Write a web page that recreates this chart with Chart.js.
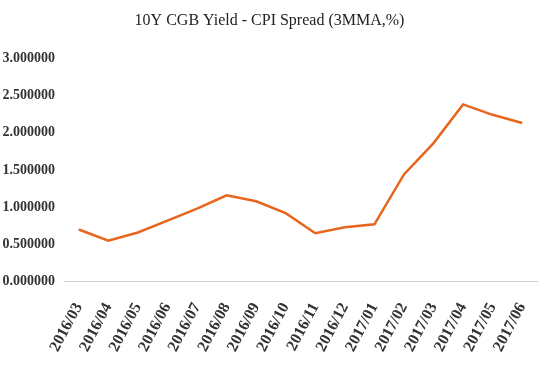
<!DOCTYPE html>
<html>
<head>
<meta charset="utf-8">
<script src="https://cdn.jsdelivr.net/npm/chart.js@4"></script>
<style>
    html, body { margin: 0; padding: 0; background: #fff; }
    #wrap { width: 551px; height: 374px; }
</style>
</head>
<body>
<div id="wrap"><canvas id="spreadChart"></canvas></div>
<script>
const months = ['2016/03', '2016/04', '2016/05', '2016/06', '2016/07', '2016/08', '2016/09', '2016/10',
    '2016/11', '2016/12', '2017/01', '2017/02', '2017/03', '2017/04', '2017/05', '2017/06'];
const spread = [0.70, 0.55, 0.66, 0.82, 0.98, 1.16, 1.08, 0.92, 0.65, 0.73, 0.77, 1.44, 1.86, 2.38, 2.24, 2.13];
const yTicks = [0, 0.5, 1, 1.5, 2, 2.5, 3];

const ctx = document.getElementById('spreadChart').getContext('2d');

new Chart(ctx, {
    type: 'line',
    data: {
        labels: months,
        datasets: [{
            label: 'Spread',
            data: spread,
            borderColor: '#e8661c',
            borderWidth: 2.5,
            pointRadius: 0,
            fill: false,
            tension: 0
        }]
    },
    options: {
        responsive: true,
        maintainAspectRatio: false,
        animation: false,
        layout: {
            padding: { left: 2, right: 14, top: 8, bottom: 1 }
        },
        plugins: {
            legend: { display: false },
            tooltip: { enabled: false },
            title: {
                display: true,
                text: '10Y CGB Yield - CPI Spread (3MMA,%)',
                color: '#222',
                font: { family: 'Liberation Serif', size: 16, weight: 'normal' },
                padding: { top: 3, bottom: 28 }
            }
        },
        scales: {
            x: {
                offset: true,
                grid: { display: false, drawTicks: false },
                border: { display: true, color: '#d0d0d0', width: 1 },
                afterFit: axis => { axis.paddingLeft = 0; axis.paddingRight = 0; },
                ticks: {
                    color: '#333',
                    font: { family: 'Liberation Serif', size: 16, weight: 'bold' },
                    minRotation: 62,
                    maxRotation: 62,
                    autoSkip: false,
                    padding: 18
                }
            },
            y: {
                min: 0,
                max: 3,
                afterBuildTicks: axis => { axis.ticks = yTicks.map(v => ({ value: v })); },
                afterFit: axis => { axis.width = 62; },
                grid: { display: false, drawTicks: false },
                border: { display: false },
                ticks: {
                    color: '#333',
                    font: { family: 'Liberation Serif', size: 14, weight: 'bold' },
                    padding: 9,
                    callback: v => Number(v).toFixed(6)
                }
            }
        }
    }
});
</script>
</body>
</html>
